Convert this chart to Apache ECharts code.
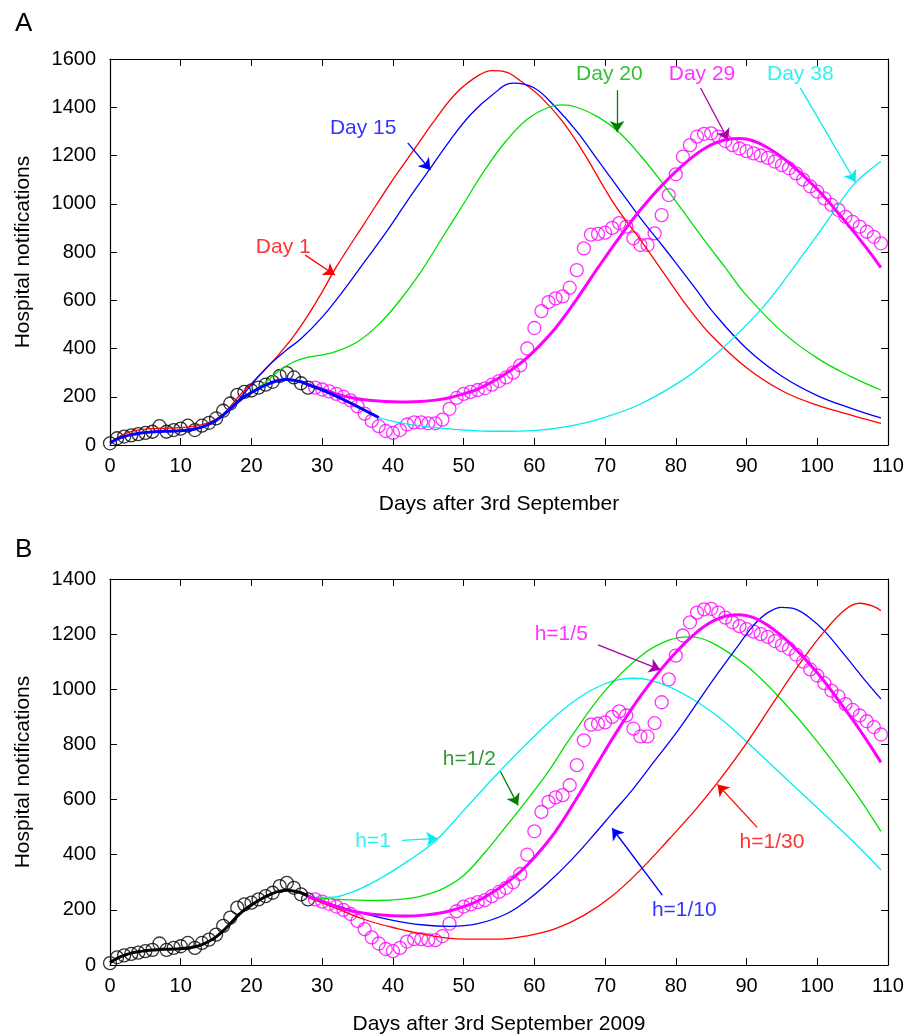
<!DOCTYPE html>
<html><head><meta charset="utf-8">
<script src="https://cdn.jsdelivr.net/npm/echarts@6/dist/echarts.min.js"></script>
<style>html,body{margin:0;padding:0;background:#fff}#c{width:907px;height:1036px}</style>
</head><body><div id="c"></div>
<script>
// ---------- data ----------
const firstDay = 0;
const splitDay = 29; // black circles before, magenta from here
const notifications = [7,28,35,40,45,50,55,78,55,62,68,80,62,80,92,110,142,172,208,220,
 226,238,250,262,286,298,280,256,238,238,230,222,212,200,185,160,130,100,78,58,
 50,62,85,94,94,90,90,105,150,195,212,220,228,235,250,265,280,300,330,400,
 485,555,592,608,616,652,725,815,872,875,880,900,920,905,857,829,829,877,953,1036,
 1122,1195,1243,1278,1290,1292,1278,1260,1243,1229,1218,1209,1200,1190,1175,1160,1147,1126,1100,1072,
 1050,1022,995,974,946,925,905,884,863,836];

const fitA = [[0,8],[1,24],[2,35],[3,43],[4,48],[5,52],[6,54],[7,56],[8,57],[9,58],[10,59],[11,62],[12,66],[13,74],[14,86],[15,102],[16,124],[17,150],[18,177],[19,200],[20,218],[21,234],[22,248],[23,260],[24,268],[25,271],[26,268],[27,262],[28,250],[30,228],[32,203],[34,174],[36,144],[38,114]];
const fitB = fitA.slice(0, 29);
const day1 = [[0,8],[2,45],[4,62],[6,68],[8,70],[10,72],[12,78],[14,94],[16,128],[18,195],[20,255],[22,315],[24,380],[26,452],[28,538],[30,635],[32,738],[36,920],[40,1100],[43,1225],[46,1350],[49,1460],[52,1530],[54,1552],[56,1546],[58,1510],[61,1440],[64,1340],[67,1210],[70,1060],[72,968],[75,850],[78,725],[80,640],[82,560],[85,455],[90,320],[95,225],[100,165],[105,122],[109,90]];
const day15 = [[15,102],[17,152],[19,215],[21,285],[23,345],[25,395],[27,440],[30,530],[33,640],[36,760],[39,880],[42,1010],[45,1135],[48,1260],[51,1370],[54,1450],[57,1500],[60,1480],[63,1400],[66,1300],[69,1180],[72,1060],[75,940],[78,830],[80,755],[83,640],[85,560],[90,400],[95,285],[100,205],[105,150],[109,112]];
const day20 = [[20,220],[22,260],[24,310],[26,345],[28,364],[30,374],[32,388],[35,428],[38,500],[41,600],[44,720],[47,860],[50,1000],[53,1140],[56,1260],[59,1350],[62,1400],[64,1410],[66,1400],[69,1360],[72,1295],[75,1200],[78,1090],[81,970],[84,850],[87,735],[90,620],[95,470],[100,360],[105,280],[109,228]];
const day29 = [[28,250],[30,232],[32,212],[34,197],[36,188],[38,182],[40,179],[42,178],[44,180],[46,186],[48,196],[50,212],[52,232],[55,278],[58,338],[60,390],[63,485],[66,605],[69,735],[72,860],[75,975],[78,1075],[81,1160],[84,1228],[87,1265],[89,1270],[91,1260],[93,1232],[96,1170],[100,1060],[104,925],[107,815],[109,735]];
const day38 = [[38,114],[40,98],[43,82],[46,72],[50,62],[55,57],[60,60],[65,78],[70,115],[75,170],[81,270],[85,360],[88,440],[92,560],[95,670],[98,790],[100,870],[102.5,975],[105,1075],[107,1130],[109,1175]];

const h1 = [[28,245],[31,245],[34,262],[38,311],[42,375],[46,450],[50,560],[55,700],[60,830],[65,945],[70,1020],[74,1040],[78,1020],[82,970],[86,900],[90,810],[95,690],[100,570],[105,450],[109,345]];
const h2 = [[28,245],[31,240],[34,236],[38,234],[41,238],[44,250],[47,276],[50,325],[53,408],[56,503],[59,600],[62,702],[65,820],[70,995],[75,1120],[79,1178],[82,1190],[85,1170],[90,1085],[95,960],[100,810],[105,640],[109,485]];
const h10 = [[28,245],[32,215],[36,185],[40,162],[44,146],[48,140],[52,150],[56,185],[59,235],[62,300],[65,375],[68,460],[71,550],[74,640],[77,740],[80,840],[83,950],[86,1060],[89,1165],[91,1232],[93,1278],[95,1297],[97,1290],[99,1258],[101,1212],[104,1120],[107,1025],[109,965]];
const h30 = [[28,245],[32,205],[36,165],[40,136],[45,108],[50,94],[55,94],[59,106],[63,132],[67,180],[71,250],[75,345],[79,455],[83,570],[86,665],[90,805],[94,960],[98,1110],[101,1210],[104,1290],[106,1312],[108,1300],[109,1285]];

const xTicks = [0,10,20,30,40,50,60,70,80,90,100,110];
const yTicksA = [0,200,400,600,800,1000,1200,1400,1600];
const yTicksB = [0,200,400,600,800,1000,1200,1400];

// annotations: [text, textPos, arrowFrom, arrowTo, textColor, arrowColor]
const notesA = [
 ['Day 1',[24.5,820],[27.6,787],[31.8,705],'#ff0000','#ff0000'],
 ['Day 15',[35.8,1314],[42.1,1252],[45.3,1140],'#0000ff','#0000ff'],
 ['Day 20',[70.6,1537],[71.7,1471],[71.7,1297],'#00b000','#008000'],
 ['Day 29',[83.7,1537],[83.5,1480],[87.4,1264],'#ff00ff','#aa00aa'],
 ['Day 38',[97.6,1537],[97.6,1480],[105.4,1090],'#00eeee','#00eeee']
];
const notesB = [
 ['h=1/5',[63.8,1201],[69,1161],[77.8,1071],'#ff00ff','#aa00aa'],
 ['h=1/2',[50.8,745],[55.2,702],[57.7,579],'#008000','#008000'],
 ['h=1',[37.2,449],[41.3,452],[46.3,459],'#00eeee','#00eeee'],
 ['h=1/10',[81.2,199],[78.1,253],[71,496],'#0000ff','#0000ff'],
 ['h=1/30',[93.6,445],[91.5,499],[85.9,655],'#ff0000','#ff0000']
];

// ---------- build ----------
const obs = notifications.map((v,i)=>[firstDay+i, v]);
const obsBlack = obs.filter(p=>p[0] < splitDay);
const obsMag = obs.filter(p=>p[0] >= splitDay);

const FONT = 'Liberation Sans, Arial, Helvetica, sans-serif';
const grids = [
 {left:110, top:59, width:778, height:386},
 {left:110, top:579, width:778, height:387}
];
function xAx(g, name, ticks){
 return [{
  gridIndex:g, type:'value', min:ticks[0], max:ticks[ticks.length-1], interval:ticks[1]-ticks[0], position:'bottom',
  name:name, nameLocation:'middle', nameGap:49,
  nameTextStyle:{fontFamily:FONT, fontSize:21, color:'#000'},
  axisLine:{onZero:false, lineStyle:{color:'#000', width:1.2}},
  axisTick:{inside:true, length:7, lineStyle:{color:'#000'}},
  axisLabel:{fontFamily:FONT, fontSize:20, color:'#000', margin:11, formatter:v=>String(v)},
  splitLine:{show:false}
 },{
  gridIndex:g, type:'value', min:ticks[0], max:ticks[ticks.length-1], interval:ticks[1]-ticks[0], position:'top',
  axisLine:{onZero:false, lineStyle:{color:'#000', width:1.2}},
  axisTick:{inside:true, length:7, lineStyle:{color:'#000'}},
  axisLabel:{show:false}, splitLine:{show:false}
 }];
}
function yAx(g, ticks){
 return [{
  gridIndex:g, type:'value', min:ticks[0], max:ticks[ticks.length-1], interval:ticks[1]-ticks[0], position:'left',
  name:'Hospital notifications', nameLocation:'middle', nameGap:76, nameRotate:90,
  nameTextStyle:{fontFamily:FONT, fontSize:21, color:'#000'},
  axisLine:{show:true, onZero:false, lineStyle:{color:'#000', width:1.2}},
  axisTick:{show:true, inside:true, length:7, lineStyle:{color:'#000'}},
  axisLabel:{fontFamily:FONT, fontSize:20, color:'#000', margin:14, formatter:v=>String(v)},
  splitLine:{show:false}
 },{
  gridIndex:g, type:'value', min:ticks[0], max:ticks[ticks.length-1], interval:ticks[1]-ticks[0], position:'right',
  axisLine:{show:true, onZero:false, lineStyle:{color:'#000', width:1.2}},
  axisTick:{show:true, inside:true, length:7, lineStyle:{color:'#000'}},
  axisLabel:{show:false}, splitLine:{show:false}
 }];
}
function line(data, color, width, xi, yi, z){
 return {type:'line', data:data, xAxisIndex:xi, yAxisIndex:yi, smooth:0.4, showSymbol:false,
  symbol:'none', lineStyle:{color:color, width:width}, z:z||3, silent:true, animation:false};
}
function circles(data, color, xi, yi){
 return {type:'scatter', data:data, xAxisIndex:xi, yAxisIndex:yi, symbol:'circle', symbolSize:13,
  itemStyle:{color:'transparent', borderColor:color, borderWidth:1.3}, z:2, silent:true, animation:false};
}
function arrows(notes, xi, yi){
 return {type:'lines', coordinateSystem:'cartesian2d', xAxisIndex:xi, yAxisIndex:yi, z:6,
  symbol:['none','arrow'], symbolSize:11, animation:false, silent:true,
  data: notes.map(n=>({coords:[n[2], n[3]], lineStyle:{color:n[5], width:1.3, opacity:1}}))};
}
function labels(notes, xi, yi){
 return {type:'scatter', xAxisIndex:xi, yAxisIndex:yi, symbolSize:1, z:7, animation:false, silent:true,
  itemStyle:{color:'transparent'},
  data: notes.map(n=>({value:n[1], label:{show:true, position:'inside', formatter:n[0], color:n[4],
    fontFamily:FONT, fontSize:21}}))};
}

const option = {
 backgroundColor:'#fff',
 animation:false,
 title:[
  {text:'A', left:10, top:6, textStyle:{fontFamily:FONT, fontSize:26, fontWeight:'normal', color:'#000'}},
  {text:'B', left:10, top:532, textStyle:{fontFamily:FONT, fontSize:26, fontWeight:'normal', color:'#000'}}
 ],
 grid: grids,
 xAxis: [...xAx(0,'Days after 3rd September',xTicks), ...xAx(1,'Days after 3rd September 2009',xTicks)],
 yAxis: [...yAx(0,yTicksA), ...yAx(1,yTicksB)],
 series: [
  circles(obsBlack,'#000',0,0),
  circles(obsMag,'#ff00ff',0,0),
  line(day1,'#ff0000',1.3,0,0),
  line(day15,'#0000ff',1.3,0,0),
  line(day20,'#00e000',1.3,0,0),
  line(day38,'#00eeee',1.3,0,0),
  line(day29,'#ff00ff',3,0,0,4),
  line(fitA,'#0000ff',3,0,0,4),
  arrows(notesA,0,0),
  labels(notesA,0,0),

  circles(obsBlack,'#000',2,2),
  circles(obsMag,'#ff00ff',2,2),
  line(h1,'#00eeee',1.3,2,2),
  line(h2,'#00e000',1.3,2,2),
  line(h10,'#0000ff',1.3,2,2),
  line(h30,'#ff0000',1.3,2,2),
  line(day29,'#ff00ff',3,2,2,4),
  line(fitB,'#000000',3,2,2,4),
  arrows(notesB,2,2),
  labels(notesB,2,2)
 ]
};
const chart = echarts.init(document.getElementById('c'), null, {renderer:'canvas'});
chart.setOption(option);
</script>
</body></html>
